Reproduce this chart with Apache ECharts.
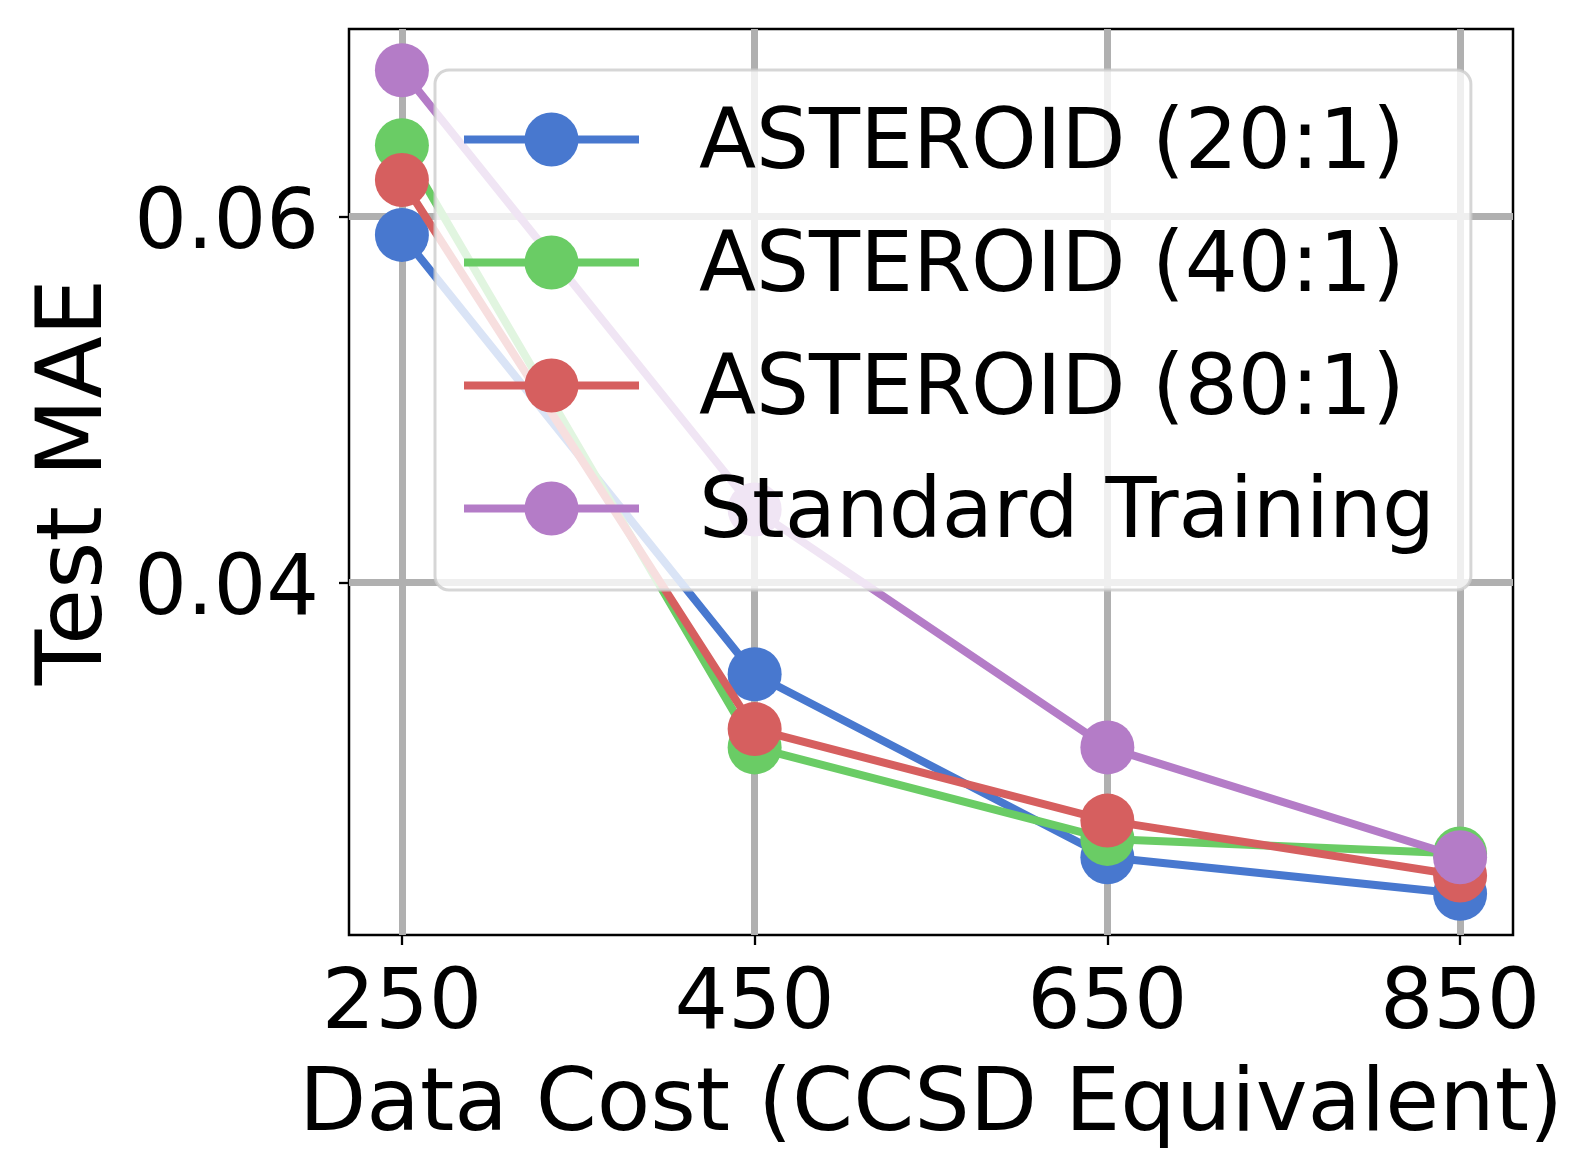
<!DOCTYPE html>
<html>
<head>
<meta charset="utf-8">
<script src="https://cdn.jsdelivr.net/npm/echarts@6/dist/echarts.min.js"></script>
<style>
  html, body { margin: 0; padding: 0; background: #ffffff; }
  #chart { width: 1592px; height: 1176px; }
</style>
</head>
<body>
<div id="chart"></div>
<script>
// ---- data ----
const costs = [250, 450, 650, 850];
const seriesNames = ['ASTEROID (20:1)', 'ASTEROID (40:1)', 'ASTEROID (80:1)', 'Standard Training'];
const asteroid20 = [0.0590, 0.0350, 0.0250, 0.0230];
const asteroid40 = [0.0639, 0.0310, 0.0260, 0.0252];
const asteroid80 = [0.0620, 0.0320, 0.0270, 0.0240];
const standardTraining = [0.0680, 0.0440, 0.0310, 0.0250];
const xTicks = [250, 450, 650, 850];
const yTicks = [0.04, 0.06];
const xLabel = 'Data Cost (CCSD Equivalent)';
const yLabel = 'Test MAE';

// ---- style ----
const colors = ['#4878CF', '#6ACC65', '#D65F5F', '#B47CC7'];
const FONT = 'DejaVu Sans';
const allValues = [asteroid20, asteroid40, asteroid80, standardTraining];

const chart = echarts.init(document.getElementById('chart'), null, { renderer: 'canvas' });

const series = allValues.map((vals, i) => ({
  name: seriesNames[i],
  type: 'line',
  data: costs.map((c, j) => [c, vals[j]]),
  symbol: 'circle',
  symbolSize: 54,
  showSymbol: true,
  color: colors[i],
  itemStyle: { color: colors[i] },
  lineStyle: { color: colors[i], width: 8 },
  emphasis: { disabled: true },
  z: 2 + i * 0.01
}));

const option = {
  animation: false,
  backgroundColor: '#ffffff',
  grid: {
    left: 349, top: 29, right: 79, bottom: 241,
    show: true,
    borderColor: '#000000',
    borderWidth: 2.5,
    backgroundColor: 'transparent'
  },
  legend: {
    orient: 'vertical',
    left: 435,
    top: 70,
    padding: [34, 36, 33, 25],
    itemGap: 39,
    itemWidth: 175,
    itemHeight: 67.5,
    backgroundColor: 'rgba(255,255,255,0.8)',
    borderColor: 'rgba(204,204,204,0.8)',
    borderWidth: 3,
    borderRadius: 14,
    lineStyle: { width: 8 },
    formatter: name => '{t|' + name + '}',
    textStyle: {
      fontFamily: FONT,
      fontSize: 83.5,
      color: '#000000',
      rich: {
        t: { fontFamily: FONT, fontSize: 83.5, color: '#000000', padding: [13, 0, 0, 55] }
      }
    },
    data: seriesNames,
    z: 10
  },
  xAxis: {
    type: 'value',
    min: 220,
    max: 880,
    name: xLabel,
    nameLocation: 'middle',
    nameGap: 128,
    nameTextStyle: { fontFamily: FONT, fontSize: 87.5, color: '#000000' },
    axisLine: { show: false },
    axisTick: { show: true, inside: false, length: 10, lineStyle: { color: '#000000', width: 2.3 }, customValues: xTicks },
    axisLabel: { show: true, margin: 29, fontFamily: FONT, fontSize: 84, color: '#000000', customValues: xTicks },
    splitLine: { show: true, lineStyle: { color: '#b0b0b0', width: 7 } }
  },
  yAxis: {
    type: 'value',
    min: 0.02075,
    max: 0.07025,
    name: yLabel,
    nameLocation: 'middle',
    nameGap: 226,
    nameTextStyle: { fontFamily: FONT, fontSize: 91, color: '#000000' },
    axisLine: { show: false },
    axisTick: { show: true, inside: false, length: 10, lineStyle: { color: '#000000', width: 2.3 }, customValues: yTicks },
    axisLabel: { show: true, margin: 30, fontFamily: FONT, fontSize: 83, color: '#000000', customValues: yTicks,
      verticalAlign: 'top', lineHeight: 19,
      formatter: v => v.toFixed(2) },
    splitLine: { show: true, lineStyle: { color: '#b0b0b0', width: 7 } }
  },
  series: series
};

chart.setOption(option);
</script>
</body>
</html>
